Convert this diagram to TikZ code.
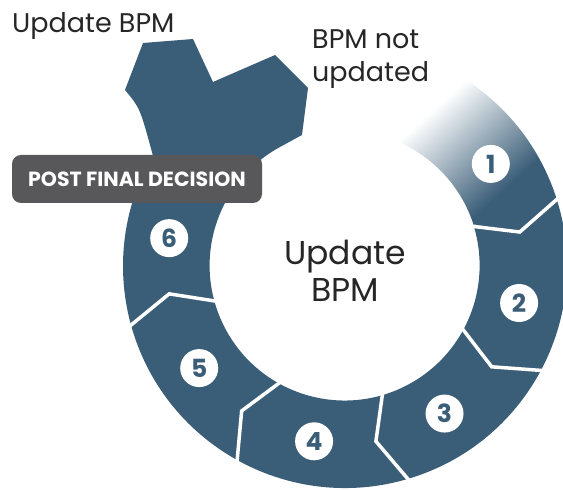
\documentclass[tikz,border=0pt]{standalone}
\usepackage{fontspec}
\setmainfont{Poppins}
\usetikzlibrary{calc}
\definecolor{ringblue}{RGB}{59,94,120}
\definecolor{tagbg}{RGB}{88,88,90}
\pgfdeclarehorizontalshading{ringfade}{100bp}{color(0bp)=(white); color(40bp)=(white); color(68bp)=(ringblue); color(100bp)=(ringblue)}
\tikzset{
	num/.style = {circle, fill=white, minimum size=38pt, inner sep=0pt, text=ringblue, font=\fontsize{25}{25}\selectfont\bfseries},
	gap/.style = {draw=white, line width=3.5pt, line join=miter},
	tag/.style = {fill=tagbg, rounded corners=9pt, minimum width=250pt, minimum height=48pt, text=white, font=\fontsize{20.5}{20.5}\selectfont\bfseries},
	lbl/.style = {inner sep=0pt, text=black!85, font=\fontsize{27}{33}\selectfont},
}

\begin{document}
\begin{tikzpicture}[x=1pt, y=1pt]
	\useasboundingbox (0,0) rectangle (563,490);
	\coordinate (C) at (345,224);
	% リング(2〜6)と上の分岐
	\fill [ringblue]
	($(C)+(18:135)$) -- ($(C)+(11:178)$) -- ($(C)+(18:222)$)
	arc [start angle=18, end angle=-210, radius=222]
	.. controls (140,382) .. (125,400)
	-- (143,447) -- (193,451) -- (213,408)
	-- (275,435) -- (308,402) -- (302,355) -- (280,343)
	arc [start angle=118.6, end angle=378, radius=135]
	-- cycle
	;
	% 1(グラデーション)
	\shade [shading=ringfade, shading angle=-48]
	($(C)+(18:135)$) -- ($(C)+(11:178)$) -- ($(C)+(18:222)$)
	arc [start angle=18, end angle=84, radius=222]
	-- ($(C)+(84:135)$)
	arc [start angle=84, end angle=18, radius=135]
	-- cycle
	;
	% 境界
	\foreach \a in {18,-27.5,-73,-118.5,-164}
		\draw [gap] ($(C)+(\a:130)$) -- ($(C)+(\a-7:178)$) -- ($(C)+(\a:227)$);
	% 番号
	\foreach \n/\a in {1/35, 2/-12, 3/-56, 4/-100, 5/-145, 6/-189}
		\node [num] (n\n) at ($(C)+(\a:178)$) {\n};
	% ラベル
	\node [tag] (post) at (137,311) {POST FINAL DECISION};
	\node [lbl, anchor=base west] (upd) at (12,457) {Update BPM};
	\node [lbl, anchor=base west, align=left] (notupd) at (312,408) {BPM not\\updated};
	\node [lbl, anchor=base, align=center, font=\fontsize{33}{37}\selectfont] (mid) at (345,188) {Update\\BPM};
\end{tikzpicture}
\end{document}
